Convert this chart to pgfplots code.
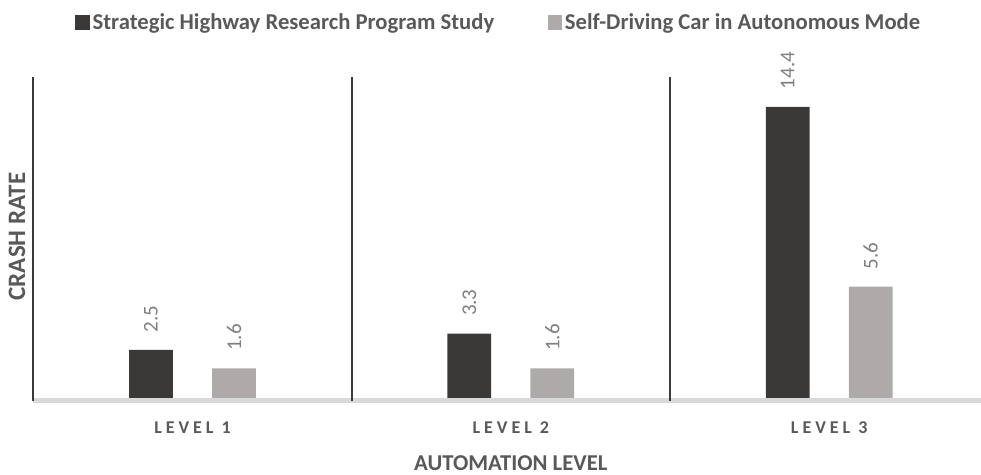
\documentclass[border=0pt]{standalone}
\usepackage{fontspec}
\setmainfont{Carlito}
\newfontfamily\spaced[LetterSpace=22]{Carlito}
\usepackage{pgfplots}
\pgfplotsset{compat=1.18}
\definecolor{darkbar}{HTML}{3B3838}
\definecolor{lightbar}{HTML}{AEAAAA}
\definecolor{sepgray}{HTML}{3A3A3A}
\definecolor{basegray}{HTML}{D9D9D9}
\definecolor{textgray}{HTML}{595959}
\definecolor{labelgray}{HTML}{7F7F7F}
\begin{document}
\begin{tikzpicture}
\begin{axis}[
  name=ax,
  scale only axis, width=710.8pt, height=242.8pt,
  xmin=-0.5, xmax=2.477, ymin=0, ymax=15.85,
  ybar=29.5pt, bar width=32.8pt,
  axis on top, clip=false,
  axis y line=none, axis x line=bottom,
  x axis line style={-, draw=basegray, line width=3.75pt},
  xtick={0,1,2}, xticklabels={LEVEL 1,LEVEL 2,LEVEL 3},
  major tick length=0pt,
  xticklabel style={font=\spaced\bfseries\fontsize{13.5}{16}\selectfont, text=textgray, anchor=center, yshift=-20.25pt},
  extra x ticks={-0.5,0.5,1.5}, extra x tick labels={},
  extra x tick style={grid=major, major grid style={draw=sepgray, line width=1.6pt}},
  xlabel={AUTOMATION LEVEL},
  xlabel style={at={(axis cs:1,0)}, anchor=center, yshift=-47pt, font=\bfseries\fontsize{17}{18}\selectfont, text=textgray},
  /pgf/number format/assume math mode=true,
  nodes near coords,
  every node near coord/.append style={rotate=90, anchor=west, inner xsep=13pt, font=\fontsize{15.75}{18}\selectfont, text=labelgray},
  legend columns=2,
  legend style={at={(rel axis cs:0.4915,1)}, anchor=center, yshift=41.25pt, draw=none, fill=none,
    font=\bfseries\fontsize{17}{19}\selectfont, text=textgray, inner sep=0pt,
    nodes={inner sep=2pt},
    /tikz/every even column/.append style={column sep=38pt}},
  legend image code/.code={\fill[#1, draw=none] (0pt,-5.5pt) rectangle (11pt,5.5pt);},
]
\addplot[fill=darkbar, draw=none] coordinates {(0,2.5) (1,3.3) (2,14.4)};
\addplot[fill=lightbar, draw=none] coordinates {(0,1.6) (1,1.6) (2,5.6)};
\legend{Strategic Highway Research Program Study, Self-Driving Car in Autonomous Mode}
\node[rotate=90, anchor=center, font=\bfseries\fontsize{18.8}{20}\selectfont, text=textgray] at ([xshift=-12.2pt]rel axis cs:0,0.508) {CRASH RATE};
\end{axis}
\pgfresetboundingbox
\path[use as bounding box] ([shift={(-25pt,-55.5pt)}]ax.south west) rectangle ([shift={(0pt,57.95pt)}]ax.north east);
\end{tikzpicture}
\end{document}
